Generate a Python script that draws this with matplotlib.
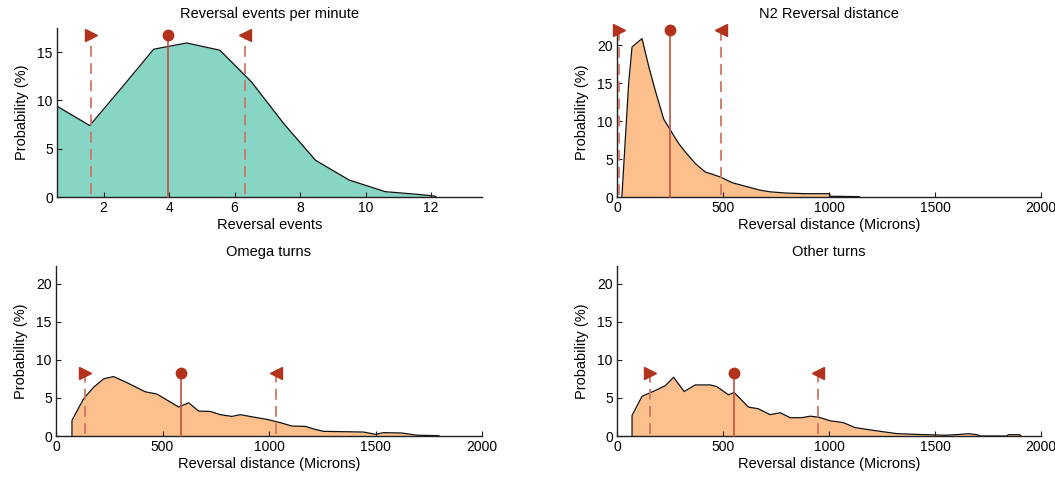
import matplotlib
matplotlib.use("Agg")
import matplotlib.pyplot as plt

plt.rcParams['font.family'] = ['Liberation Sans', 'DejaVu Sans']

# ---- Data ----
titles = ["Reversal events per minute", "N2 Reversal distance", "Omega turns", "Other turns"]
xlabels = ["Reversal events", "Reversal distance (Microns)",
           "Reversal distance (Microns)", "Reversal distance (Microns)"]

rev_x = [0.58, 1.58, 2.55, 3.53, 4.54, 5.55, 6.52, 7.5, 8.47, 9.5, 10.6, 11.5, 12.1, 12.15]
rev_y = [9.4, 7.4, 11.3, 15.3, 15.95, 15.2, 11.9, 7.6, 3.8, 1.75, 0.55, 0.3, 0.1, 0.0]

n2_x = [23, 55, 71, 118, 150, 180, 220, 259, 290, 322, 370, 416, 450, 487, 542, 605,
        675, 723, 793, 879, 1002, 1005, 1139, 1145]
n2_y = [0.0, 15.0, 19.8, 20.9, 17.2, 14.1, 10.3, 8.5, 7.1, 5.94, 4.4, 3.3, 3.0, 2.64, 1.9,
        1.42, 0.9, 0.68, 0.53, 0.44, 0.44, 0.1, 0.05, 0.0]

om_x = [75, 75, 130, 177, 224, 270, 333, 419, 474, 576, 623, 670, 725, 771, 826, 865, 928,
        991, 1053, 1108, 1170, 1217, 1256, 1444, 1499, 1538, 1624, 1695, 1790, 1800]
om_y = [0.0, 2.05, 4.9, 6.4, 7.5, 7.8, 7.0, 5.8, 5.5, 3.8, 4.35, 3.26, 3.22, 2.8, 2.57, 2.8,
        2.48, 2.18, 1.75, 1.3, 1.26, 0.87, 0.61, 0.52, 0.22, 0.44, 0.39, 0.1, 0.05, 0.0]

ot_x = [71, 71, 118, 173, 228, 267, 317, 369, 440, 471, 526, 553, 620, 667, 722, 770, 817,
        872, 911, 950, 1005, 1068, 1123, 1209, 1320, 1406, 1547, 1602, 1657, 1697, 1715,
        1840, 1845, 1900, 1905]
ot_y = [0.0, 2.7, 5.2, 5.87, 6.6, 7.7, 5.83, 6.7, 6.7, 6.48, 5.4, 5.7, 3.8, 3.57, 2.8, 3.05,
        2.4, 2.4, 2.6, 2.48, 2.0, 1.75, 1.1, 0.74, 0.31, 0.22, 0.1, 0.18, 0.3, 0.18, 0.0,
        0.0, 0.17, 0.17, 0.0]

series_x = [rev_x, n2_x, om_x, ot_x]
series_y = [rev_y, n2_y, om_y, ot_y]

# markers: (left dashed, mean solid, right dashed)
stat_lo = [1.61, 10, 138, 154]
stat_mid = [3.97, 251, 588, 553]
stat_hi = [6.31, 492, 1033, 950]
stat_top = [16.8, 22.0, 8.2, 8.26]

xlims = [(0.58, 13.55), (0, 2000), (0, 2000), (0, 2000)]
ylims = [(0, 17.5), (0, 22.3), (0, 22.3), (0, 22.3)]
xticks = [[2, 4, 6, 8, 10, 12], [0, 500, 1000, 1500, 2000],
          [0, 500, 1000, 1500, 2000], [0, 500, 1000, 1500, 2000]]
yticks = [[0, 5, 10, 15], [0, 5, 10, 15, 20], [0, 5, 10, 15, 20], [0, 5, 10, 15, 20]]
fills = ['#87D5C4', '#FDBF8C', '#FDBF8C', '#FDBF8C']

W, H = 1055, 483
fig = plt.figure(figsize=(W / 100, H / 100), dpi=100)

boxes = [(57, 28, 482, 197), (617, 28, 1041, 197), (56, 266, 482, 436), (617, 266, 1041, 436)]
red = '#B3321B'
line_red = '#C4503C'
dash_red = '#D27464'

for i in range(4):
    l, t, r, b = boxes[i]
    ax = fig.add_axes([l / W, 1 - b / H, (r - l) / W, (b - t) / H])
    x, y = series_x[i], series_y[i]
    ax.fill_between(x, 0, y, color=fills[i], lw=0, zorder=1)
    ax.plot(x, y, color='#111111', lw=0.9, zorder=2)
    top = stat_top[i]
    ax.plot([stat_lo[i]] * 2, [0.3, top], color=dash_red, lw=1.3,
            linestyle=(0, (6, 3.5)), zorder=3, clip_on=False)
    ax.plot([stat_hi[i]] * 2, [0.3, top], color=dash_red, lw=1.3,
            linestyle=(0, (6, 3.5)), zorder=3, clip_on=False)
    ax.plot([stat_mid[i]] * 2, [0, top], color=line_red, lw=1.2, zorder=3, clip_on=False)
    ax.plot([stat_lo[i]], [top], marker='>', color=red, ms=8, zorder=4, clip_on=False, mec=red)
    ax.plot([stat_hi[i]], [top], marker='<', color=red, ms=8, zorder=4, clip_on=False, mec=red)
    ax.plot([stat_mid[i]], [top], marker='o', color=red, ms=7.5, zorder=4, clip_on=False, mec=red)

    ax.set_xlim(*xlims[i])
    ax.set_ylim(*ylims[i])
    ax.set_xticks(xticks[i])
    ax.set_yticks(yticks[i])
    ax.tick_params(direction='in', length=3.5, width=0.8, labelsize=10, color='#222222',
                   pad=3)
    for s in ['top', 'right']:
        ax.spines[s].set_visible(False)
    for s in ['left', 'bottom']:
        ax.spines[s].set_color('#222222')
        ax.spines[s].set_linewidth(1.0)
    ax.set_title(titles[i], fontsize=10.5, pad=7)
    ax.set_xlabel(xlabels[i], fontsize=10.5, labelpad=2)
    ax.set_ylabel("Probability (%)", fontsize=10.5, labelpad=6)

fig.savefig("out.png", dpi=100)
